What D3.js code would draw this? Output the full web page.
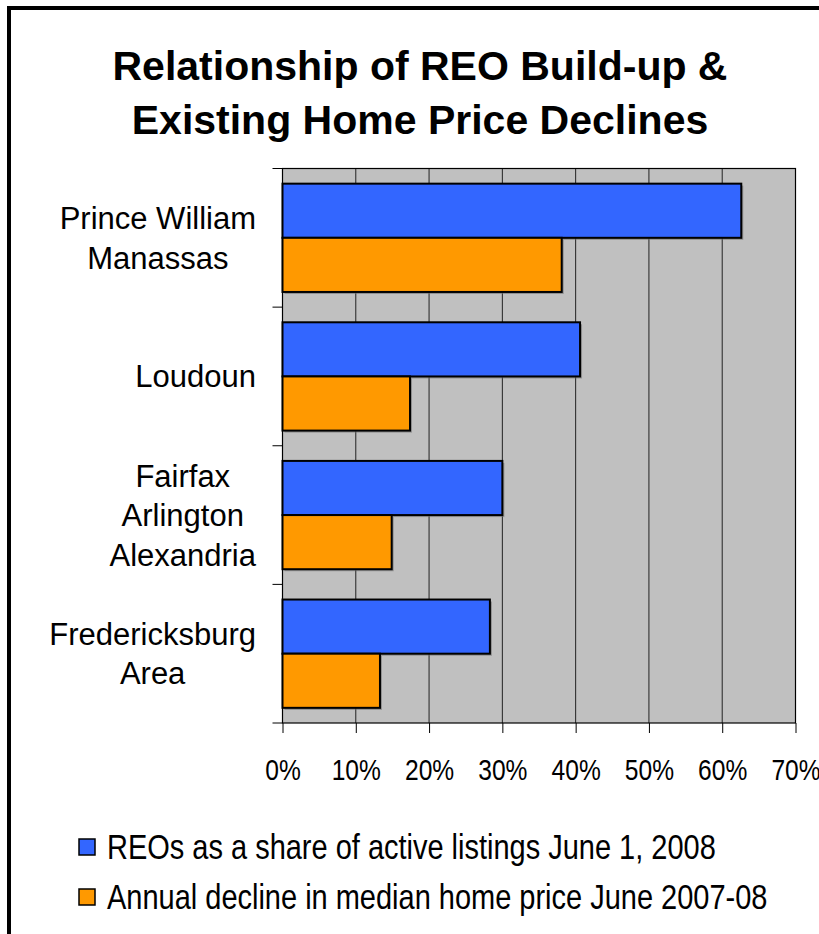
<!DOCTYPE html>
<html>
<head>
<meta charset="utf-8">
<script src="https://cdn.jsdelivr.net/npm/d3@7"></script>
<style>
  body { margin: 0; background: #fff; }
  svg { display: block; }
  text { font-family: "Liberation Sans", Arial, sans-serif; fill: #000; }
</style>
</head>
<body>
<svg id="chart" width="819" height="934"></svg>
<script>
// data
let regions = [
  ["Prince William", "Manassas"],
  ["Loudoun"],
  ["Fairfax", "Arlington", "Alexandria"],
  ["Fredericksburg", "Area"]
];
let regionKeys = regions.map(d => d.join(" "));
let seriesNames = [
  "REOs as a share of active listings June 1, 2008",
  "Annual decline in median home price June 2007-08"
];
let reoShare = [0.626, 0.406, 0.30, 0.283];
let priceDecline = [0.381, 0.174, 0.149, 0.133];
let xTicks = [0, 0.1, 0.2, 0.3, 0.4, 0.5, 0.6, 0.7];
let colors = ["#3366ff", "#ff9900"];
let titleLines = ["Relationship of REO Build-up &", "Existing Home Price Declines"];

let svg = d3.select("#chart");

// outer frame (runs off the right and bottom edge)
svg.append("rect")
  .attr("x", 9).attr("y", 8)
  .attr("width", 900).attr("height", 1000)
  .attr("fill", "none")
  .attr("stroke", "#000")
  .attr("stroke-width", 4);

// title
svg.append("g").selectAll("text")
  .data(titleLines)
  .join("text")
  .attr("x", 420)
  .attr("y", (d, i) => 80 + i * 54)
  .attr("text-anchor", "middle")
  .attr("font-weight", "bold")
  .attr("font-size", 41)
  .text(d => d);

// scales
let plotL = 282.5, plotR = 795.5, plotT = 168.5, plotB = 723;
let x = d3.scaleLinear().domain([0, 0.7]).range([plotL, plotR]);
let y = d3.scaleBand().domain(regionKeys).range([plotT, plotB]);
let ySub = d3.scaleBand().domain([0, 1]).range([0, y.bandwidth()]).paddingOuter(0.28);

// plot area
svg.append("rect")
  .attr("x", plotL).attr("y", plotT)
  .attr("width", plotR - plotL).attr("height", plotB - plotT)
  .attr("fill", "#c0c0c0");

// gridlines
svg.append("g").selectAll("line")
  .data(xTicks.slice(1, -1))
  .join("line")
  .attr("x1", d => x(d)).attr("x2", d => x(d))
  .attr("y1", plotT).attr("y2", plotB)
  .attr("stroke", "#222")
  .attr("stroke-width", 1);

svg.append("rect")
  .attr("x", plotL).attr("y", plotT)
  .attr("width", plotR - plotL).attr("height", plotB - plotT)
  .attr("fill", "none")
  .attr("stroke", "#000")
  .attr("stroke-width", 1.2);

// bars
let rows = regionKeys.map((k, i) => ({ key: k, vals: [reoShare[i], priceDecline[i]] }));
let groups = svg.append("g").selectAll("g")
  .data(rows)
  .join("g")
  .attr("transform", d => `translate(0, ${y(d.key)})`);

// little drop shadow like the original
groups.selectAll("rect.shadow")
  .data(d => d.vals)
  .join("rect")
  .attr("class", "shadow")
  .attr("x", x(0) + 2)
  .attr("y", (d, i) => ySub(i) + 2)
  .attr("width", d => x(d) - x(0))
  .attr("height", ySub.bandwidth())
  .attr("fill", "#6e6e6e")
  .attr("opacity", 0.6);

groups.selectAll("rect.bar")
  .data(d => d.vals)
  .join("rect")
  .attr("class", "bar")
  .attr("x", x(0))
  .attr("y", (d, i) => ySub(i))
  .attr("width", d => x(d) - x(0))
  .attr("height", ySub.bandwidth())
  .attr("fill", (d, i) => colors[i])
  .attr("stroke", "#000")
  .attr("stroke-width", 2);

// y axis: ticks on band edges, custom multi-line labels
let bandEdges = regionKeys.map(k => y(k)).concat([plotB]);
svg.append("g").selectAll("line")
  .data(bandEdges)
  .join("line")
  .attr("x1", plotL - 10).attr("x2", plotL)
  .attr("y1", d => d).attr("y2", d => d)
  .attr("stroke", "#000")
  .attr("stroke-width", 1);

let labelRight = 256, lineH = 39.5;
let labelG = svg.append("g");
regions.forEach((lines, i) => {
  let cy = y(regionKeys[i]) + y.bandwidth() / 2;
  let g = labelG.append("g");
  let t = g.selectAll("text")
    .data(lines)
    .join("text")
    .attr("font-size", 31)
    .attr("text-anchor", "middle")
    .attr("y", (d, j) => cy + (j - (lines.length - 1) / 2) * lineH + 11)
    .text(d => d);
  let maxW = d3.max(t.nodes(), n => n.getComputedTextLength());
  t.attr("x", labelRight - maxW / 2);
});

// x axis
let xAxis = d3.axisBottom(x)
  .tickValues(xTicks)
  .tickSize(10)
  .tickFormat(d3.format(".0%"));
let xg = svg.append("g")
  .attr("transform", `translate(0, ${plotB})`)
  .call(xAxis);
xg.select(".domain").remove();
xg.selectAll(".tick line").attr("stroke", "#000");
// narrow lettering (Arial Narrow look)
xg.selectAll(".tick text")
  .attr("font-family", "Liberation Sans, Arial, sans-serif")
  .attr("font-size", 30)
  .attr("fill", "#000")
  .attr("dy", null)
  .attr("y", 0)
  .attr("transform", "translate(0, 57) scale(0.82, 1)");

// legend
let legend = svg.append("g").selectAll("g")
  .data(seriesNames)
  .join("g")
  .attr("transform", (d, i) => `translate(79, ${847 + i * 50})`);

legend.append("rect")
  .attr("x", 0).attr("y", -8)
  .attr("width", 16).attr("height", 16)
  .attr("fill", (d, i) => colors[i])
  .attr("stroke", "#000")
  .attr("stroke-width", 1.5);

legend.append("text")
  .attr("font-size", 35)
  .attr("transform", "translate(28, 12) scale(0.828, 1)")
  .text(d => d);
</script>
</body>
</html>
